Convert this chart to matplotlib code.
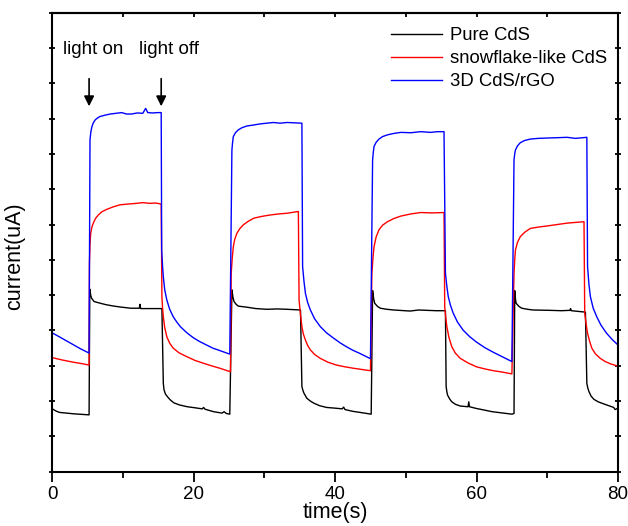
import matplotlib.pyplot as plt
from matplotlib.ticker import MultipleLocator, NullFormatter

plt.rcParams['font.family'] = ['Liberation Sans', 'DejaVu Sans']

# Pure CdS (czarna)
t_pure = [0.0, 0.5, 1.0, 3.0, 5.2, 5.3, 5.45, 5.57, 5.9, 6.8, 7.6, 8.7, 9.8, 11.1, 12.3, 12.4, 12.5, 14.0, 15.5,
          15.7, 15.8, 16.0, 16.3, 16.7, 17.2, 18.0, 19.1, 20.2, 21.2, 21.4, 21.6, 22.8, 24.0, 24.3, 24.6, 25.1,
          25.4, 25.55, 25.7, 26.0, 26.3, 27.5, 28.8, 30.3, 31.8, 33.2, 35.1,
          35.3, 35.45, 35.6, 36.0, 36.5, 37.0, 37.8, 38.8, 40.0, 41.0, 41.2, 41.4, 42.5, 43.5, 45.1,
          45.3, 45.45, 45.6, 46.0, 46.4, 47.3, 48.3, 50.6, 51.8, 53.0, 54.3, 55.6,
          55.7, 55.8, 55.9, 56.2, 56.5, 57.0, 57.7, 58.8, 58.9, 59.0, 60.0, 61.0, 62.2, 63.4, 65.0, 65.3,
          65.4, 65.5, 65.6, 66.0, 66.4, 67.2, 68.0, 70.4, 72.0, 73.2, 73.3, 73.4, 75.4,
          75.6, 75.75, 75.9, 76.2, 76.6, 77.2, 78.0, 78.7, 79.4, 79.6, 80.0]
i_pure = [1.78, 1.72, 1.68, 1.64, 1.61, 5.17, 4.98, 4.91, 4.82, 4.77, 4.73, 4.69, 4.66, 4.63, 4.63, 4.74, 4.62, 4.62, 4.62,
          2.50, 2.32, 2.20, 2.12, 2.03, 1.95, 1.89, 1.84, 1.81, 1.78, 1.82, 1.77, 1.70, 1.66, 1.70, 1.65, 1.63,
          5.15, 4.94, 4.82, 4.74, 4.69, 4.66, 4.62, 4.60, 4.61, 4.60, 4.58,
          2.41, 2.30, 2.22, 2.08, 2.00, 1.94, 1.87, 1.82, 1.80, 1.78, 1.83, 1.76, 1.71, 1.68, 1.63,
          5.13, 4.90, 4.77, 4.68, 4.63, 4.60, 4.58, 4.55, 4.58, 4.57, 4.56, 4.56,
          2.41, 2.27, 2.17, 2.06, 1.98, 1.91, 1.86, 1.84, 1.98, 1.84, 1.79, 1.75, 1.70, 1.67, 1.63, 1.65,
          5.13, 4.90, 4.77, 4.68, 4.63, 4.60, 4.58, 4.57, 4.56, 4.57, 4.62, 4.56, 4.52,
          2.50, 2.36, 2.27, 2.14, 2.05, 1.98, 1.92, 1.87, 1.82, 1.76, 1.80]

# snowflake-like CdS (czerwona)
t_snow = [0.0, 1.5, 3.0, 4.2, 5.2, 5.25, 5.33, 5.43, 5.6, 5.8, 6.1, 6.5, 7.0, 7.7, 8.6, 9.6, 10.7, 11.9, 12.8,
          13.8, 14.6, 15.4,
          15.5, 15.6, 15.7, 15.9, 16.2, 16.6, 17.1, 17.9, 19.0, 20.2, 21.4, 22.5, 23.7, 25.2,
          25.3, 25.45, 25.6, 25.8, 26.1, 26.5, 27.0, 27.7, 28.5, 29.6, 30.8, 32.0, 33.2, 34.8,
          34.9, 35.1, 35.3, 35.5, 35.8, 36.1, 36.5, 37.1, 37.9, 39.0, 40.2, 41.4, 42.6, 45.0,
          45.2, 45.35, 45.5, 45.8, 46.2, 46.7, 47.4, 48.3, 49.3, 50.7, 52.1, 53.7, 55.4,
          55.5, 55.65, 55.8, 56.1, 56.5, 57.0, 57.7, 58.8, 60.0, 61.2, 62.4, 63.7, 65.0,
          65.3, 65.4, 65.5, 65.8, 66.2, 66.8, 67.6, 68.8, 70.0, 71.4, 72.8, 74.0, 75.2,
          75.3, 75.5, 75.7, 76.0, 76.3, 76.8, 77.5, 78.2, 79.0, 80.0]
i_snow = [3.23, 3.16, 3.10, 3.06, 3.02, 5.90, 6.45, 6.75, 6.93, 7.04, 7.17, 7.27, 7.36, 7.43, 7.50, 7.56, 7.58, 7.60, 7.62,
          7.60, 7.61, 7.58,
          4.96, 4.62, 4.39, 4.08, 3.82, 3.64, 3.50, 3.37, 3.26, 3.15, 3.07, 3.00, 2.93, 2.83,
          5.62, 6.05, 6.37, 6.58, 6.75, 6.88, 6.99, 7.09, 7.18, 7.23, 7.27, 7.30, 7.32, 7.37,
          4.86, 4.45, 4.11, 3.90, 3.73, 3.58, 3.45, 3.32, 3.21, 3.10, 3.02, 2.97, 2.93, 2.86,
          5.62, 6.05, 6.37, 6.65, 6.85, 6.98, 7.08, 7.17, 7.24, 7.30, 7.34, 7.33, 7.34,
          4.67, 4.37, 4.11, 3.80, 3.54, 3.36, 3.21, 3.08, 2.97, 2.91, 2.86, 2.82, 2.77,
          5.62, 6.00, 6.28, 6.50, 6.66, 6.78, 6.89, 6.93, 6.96, 7.00, 7.04, 7.06, 7.08,
          4.49, 4.18, 3.92, 3.69, 3.50, 3.34, 3.21, 3.12, 3.05, 2.99]

# 3D CdS/rGO (niebieska)
t_rgo = [0.0, 1.0, 2.5, 4.0, 5.2, 5.33, 5.45, 5.6, 5.8, 6.05, 6.4, 6.75, 7.5, 8.2, 9.0, 9.8, 10.5, 11.2, 12.0, 12.8,
         13.2, 13.5, 14.2, 14.9, 15.4,
         15.47, 15.6, 15.7, 15.9, 16.2, 16.6, 17.1, 17.6, 18.1, 19.0, 19.9, 20.8, 21.8, 22.7, 23.7, 25.1,
         25.4, 25.5, 25.6, 25.9, 26.3, 26.8, 27.5, 28.5, 29.4, 30.3, 31.3, 32.2, 33.2, 34.3, 35.3,
         35.4, 35.6, 35.8, 36.1, 36.5, 37.1, 37.9, 38.8, 39.8, 40.7, 41.6, 42.5, 43.5, 45.0,
         45.3, 45.4, 45.5, 45.8, 46.2, 46.7, 47.4, 48.3, 49.3, 50.7, 52.1, 53.5, 54.5, 55.4,
         55.6, 55.8, 56.0, 56.3, 56.7, 57.3, 58.1, 59.0, 60.0, 61.2, 62.4, 63.7, 65.0,
         65.3, 65.4, 65.5, 65.8, 66.2, 66.8, 67.6, 68.7, 70.0, 71.5, 72.8, 74.0, 75.6,
         75.7, 75.9, 76.1, 76.5, 77.0, 77.6, 78.4, 79.2, 80.0]
i_rgo = [3.93, 3.82, 3.65, 3.48, 3.36, 9.40, 9.62, 9.77, 9.88, 9.96, 10.02, 10.06, 10.10, 10.13, 10.15, 10.17, 10.13,
         10.13, 10.16, 10.15,
         10.29, 10.17, 10.16, 10.17, 10.17,
         6.28, 5.80, 5.52, 5.15, 4.86, 4.60, 4.39, 4.24, 4.11, 3.94, 3.80, 3.69, 3.59, 3.50, 3.43, 3.33,
         9.11, 9.33, 9.49, 9.60, 9.68, 9.74, 9.79, 9.82, 9.85, 9.87, 9.89, 9.87, 9.89, 9.88, 9.87,
         5.81, 5.38, 5.05, 4.80, 4.58, 4.33, 4.11, 3.93, 3.78, 3.65, 3.54, 3.44, 3.35, 3.20,
         8.83, 9.05, 9.21, 9.33, 9.42, 9.49, 9.54, 9.58, 9.61, 9.60, 9.63, 9.61, 9.63, 9.63,
         5.62, 5.25, 4.96, 4.72, 4.49, 4.24, 4.01, 3.83, 3.67, 3.51, 3.38, 3.25, 3.12,
         8.83, 9.00, 9.11, 9.23, 9.32, 9.38, 9.42, 9.44, 9.45, 9.46, 9.47, 9.44, 9.47,
         5.81, 5.30, 4.96, 4.63, 4.39, 4.15, 3.92, 3.74, 3.59]

fig = plt.figure(figsize=(6.28, 5.26), dpi=100)
ax = fig.add_axes([0.0833, 0.1032, 0.9007, 0.8727])

ax.plot(t_pure, i_pure, color='black', lw=1.0, label='Pure CdS')
ax.plot(t_snow, i_snow, color='red', lw=1.0, label='snowflake-like CdS')
ax.plot(t_rgo, i_rgo, color='blue', lw=1.0, label='3D CdS/rGO')

ax.set_xlim(0, 80)
ax.set_ylim(0, 13)
ax.xaxis.set_major_locator(MultipleLocator(20))
ax.xaxis.set_minor_locator(MultipleLocator(10))
ax.yaxis.set_major_locator(MultipleLocator(1))
ax.yaxis.set_major_formatter(NullFormatter())

ax.tick_params(axis='x', which='major', direction='out', length=7, width=1.3, labelsize=13.5)
ax.tick_params(axis='x', which='minor', direction='out', length=4, width=1.3)
ax.tick_params(axis='y', direction='inout', length=4, width=1.3, right=True)
for s in ax.spines.values():
    s.set_linewidth(1.5)

# górne ticki skierowane do środka
top = ax.secondary_xaxis('top')
top.xaxis.set_major_locator(MultipleLocator(10))
top.xaxis.set_major_formatter(NullFormatter())
top.tick_params(direction='in', length=3, width=1.3)
top.spines['top'].set_linewidth(1.5)

ax.set_xlabel('time(s)', fontsize=15.5, va='center')
ax.xaxis.set_label_coords(0.5, -0.089)
ax.set_ylabel('current(uA)', fontsize=15.5)
ax.yaxis.set_label_coords(-0.048, 0.47)

# strzałki włącz/wyłącz światło
arrow = dict(arrowstyle='-|>', color='black', lw=1.2, mutation_scale=15)
ax.annotate('', xy=(5.2, 10.27), xytext=(5.2, 11.21), arrowprops=arrow)
ax.annotate('', xy=(15.4, 10.27), xytext=(15.4, 11.21), arrowprops=arrow)
ax.text(5.75, 11.95, 'light on', ha='center', va='center', fontsize=13.5)
ax.text(16.5, 11.95, 'light off', ha='center', va='center', fontsize=13.5)

ax.legend(loc='upper left', bbox_to_anchor=(0.57, 1.005), frameon=False, fontsize=13.3,
          handlelength=2.75, handletextpad=0.4, labelspacing=0.33)

fig.savefig('out.png', dpi=100)
